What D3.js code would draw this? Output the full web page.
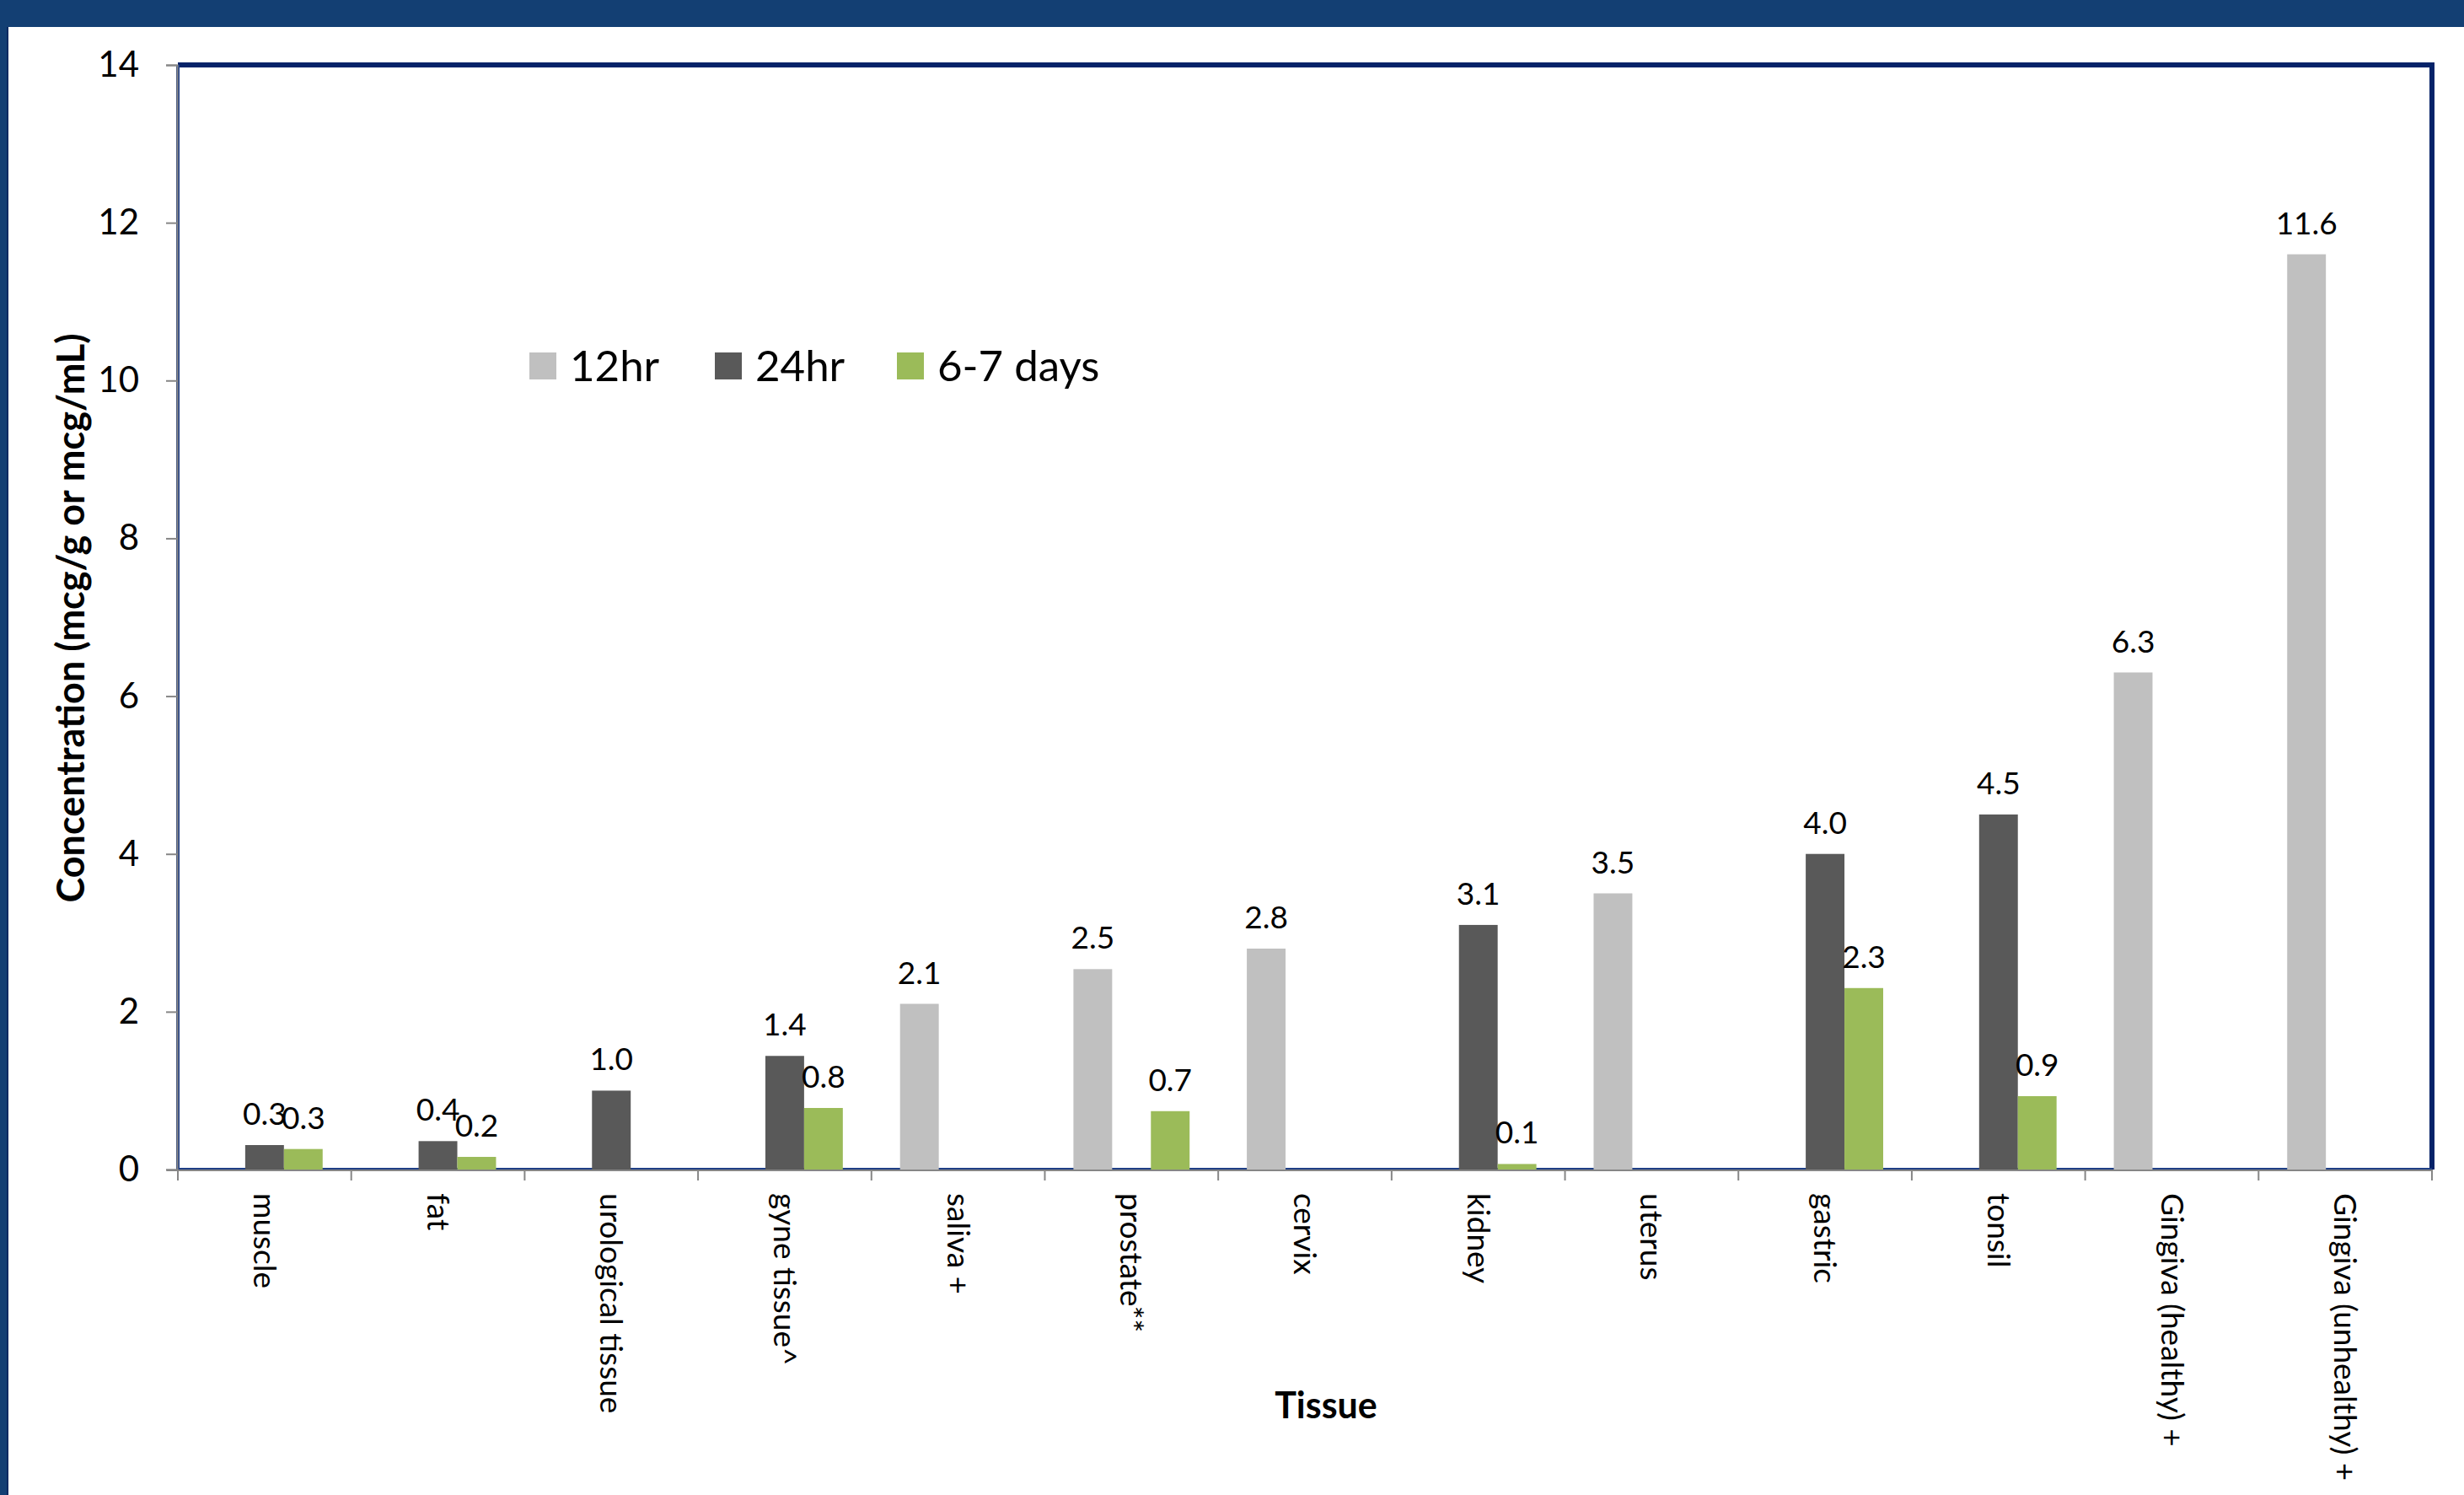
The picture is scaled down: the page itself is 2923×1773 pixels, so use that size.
<!DOCTYPE html>
<html>
<head>
<meta charset="utf-8">
<script src="https://cdn.jsdelivr.net/npm/d3@7"></script>
<style>
  body { margin: 0; background: #ffffff; }
  text { font-family: Lato, "Noto Sans", sans-serif; fill: #000; }
</style>
</head>
<body>
<div id="chart"></div>
<script>
var categories = ["muscle", "fat", "urological tissue", "gyne tissue^", "saliva +", "prostate**",
                  "cervix", "kidney", "uterus", "gastric", "tonsil", "Gingiva (healthy) +", "Gingiva (unhealthy) +"];
var seriesNames = ["12hr", "24hr", "6-7 days"];
var seriesColors = ["#c0c0c0", "#595959", "#9bbb59"];

// null = no bar for that tissue
var values12hr  = [null, null, null, null, 2.1, 2.54, 2.8, null, 3.5, null, null, 6.3, 11.6];
var values24hr  = [0.31, 0.36, 1.0, 1.44, null, null, null, 3.1, null, 4.0, 4.5, null, null];
var values6to7d = [0.26, 0.16, null, 0.78, null, 0.74, null, 0.07, null, 2.3, 0.93, null, null];

var yTicks = [0, 2, 4, 6, 8, 10, 12, 14];

plot_grouped_bars("#chart");

function plot_grouped_bars(htmlObjectId) {
    var width = 2923;
    var height = 1773;
    var left = 211, right = 2885, top = 77, bottom = 1387;

    var allSeries = [values12hr, values24hr, values6to7d];

    var svg = d3.select(htmlObjectId)
                .append("svg")
                .attr("width", width)
                .attr("height", height);

    // slide frame
    svg.append("rect").attr("x", 0).attr("y", 0).attr("width", width).attr("height", height).attr("fill", "#fff");
    svg.append("rect").attr("x", 0).attr("y", 0).attr("width", width).attr("height", 32).attr("fill", "#133f73");
    svg.append("rect").attr("x", 0).attr("y", 0).attr("width", 9).attr("height", height).attr("fill", "#133f73");
    svg.append("rect").attr("x", 8).attr("y", 32).attr("width", 2).attr("height", height).attr("fill", "#0a2a62");

    var x0 = d3.scaleBand()
               .domain(categories)
               .range([left, right])
               .paddingInner(0.33)
               .paddingOuter(0.165);

    var x1 = d3.scaleBand()
               .domain(seriesNames)
               .range([0, x0.bandwidth()]);

    var y = d3.scaleLinear()
              .domain([0, 14])
              .range([bottom, top]);

    // plot frame
    svg.append("path")
       .attr("d", "M" + left + "," + top + "H" + right + "V" + bottom)
       .attr("fill", "none").attr("stroke", "#062369").attr("stroke-width", 6);
    svg.append("path")
       .attr("d", "M" + left + "," + top + "V" + bottom + "H" + right)
       .attr("fill", "none").attr("stroke", "#1f3f86").attr("stroke-width", 4);

    // bars
    var bars = [];
    allSeries.forEach(function(vals, s) {
        vals.forEach(function(v, i) {
            if (v !== null) bars.push({ cat: categories[i], series: seriesNames[s], color: seriesColors[s], value: v });
        });
    });

    svg.selectAll("rect.bar")
       .data(bars)
       .enter()
         .append("rect")
         .attr("class", "bar")
         .attr("x", function(d) { return x0(d.cat) + x1(d.series); })
         .attr("y", function(d) { return y(d.value); })
         .attr("width", x1.bandwidth())
         .attr("height", function(d) { return y(0) - y(d.value); })
         .attr("fill", function(d) { return d.color; });

    svg.selectAll("text.lbl")
       .data(bars)
       .enter()
         .append("text")
         .attr("class", "lbl")
         .attr("x", function(d) { return x0(d.cat) + x1(d.series) + x1.bandwidth() / 2; })
         .attr("y", function(d) { return y(d.value) - 24; })
         .attr("text-anchor", "middle")
         .style("font-size", "37px")
         .text(function(d) { return d.value.toFixed(1); });

    // y axis
    var yAxis = d3.axisLeft(y)
                  .tickValues(yTicks)
                  .tickSize(13)
                  .tickPadding(32)
                  .tickFormat(d3.format("d"));

    var gy = svg.append("g")
                .attr("transform", "translate(" + (left - 1) + ",0)")
                .call(yAxis);
    gy.select(".domain").attr("stroke", "#868686").attr("stroke-width", 2);
    gy.selectAll(".tick line").attr("stroke", "#868686").attr("stroke-width", 2);
    gy.selectAll(".tick text").style("font-size", "42px").attr("fill", "#000");

    // x axis: ticks at category boundaries
    var gap = (x0.step() - x0.bandwidth()) / 2;
    var bounds = categories.map(function(c) { return x0(c) - gap; });
    bounds.push(x0(categories[categories.length - 1]) + x0.bandwidth() + gap);

    svg.append("line")
       .attr("x1", left - 13).attr("x2", right)
       .attr("y1", bottom + 1).attr("y2", bottom + 1)
       .attr("stroke", "#868686").attr("stroke-width", 2);

    svg.selectAll("line.xtick")
       .data(bounds)
       .enter()
         .append("line")
         .attr("class", "xtick")
         .attr("x1", function(d) { return d; }).attr("x2", function(d) { return d; })
         .attr("y1", bottom).attr("y2", bottom + 13)
         .attr("stroke", "#868686").attr("stroke-width", 2);

    svg.selectAll("text.cat")
       .data(categories)
       .enter()
         .append("text")
         .attr("class", "cat")
         .attr("transform", function(d) { return "translate(" + (x0(d) + x0.bandwidth() / 2) + "," + (bottom + 28) + ") rotate(90)"; })
         .attr("dy", "0.35em")
         .style("font-size", "37px")
         .text(function(d) { return d; });

    // axis titles
    svg.append("text")
       .attr("x", 1573).attr("y", 1682)
       .attr("text-anchor", "middle")
       .style("font-size", "43px").style("font-weight", "bold")
       .text("Tissue");

    svg.append("text")
       .attr("transform", "translate(100,733) rotate(-90)")
       .attr("text-anchor", "middle")
       .style("font-size", "45px").style("font-weight", "bold")
       .text("Concentration (mcg/g or mcg/mL)");

    // legend
    var legendX = [628, 848, 1064];
    var legend = svg.selectAll("g.legend")
                    .data(seriesNames)
                    .enter()
                      .append("g")
                      .attr("class", "legend")
                      .attr("transform", function(d, i) { return "translate(" + legendX[i] + ",418)"; });
    legend.append("rect")
          .attr("width", 32).attr("height", 32)
          .attr("fill", function(d, i) { return seriesColors[i]; });
    legend.append("text")
          .attr("x", 48).attr("y", 16).attr("dy", "0.36em")
          .style("font-size", "51px")
          .text(function(d) { return d; });
}
</script>
</body>
</html>
